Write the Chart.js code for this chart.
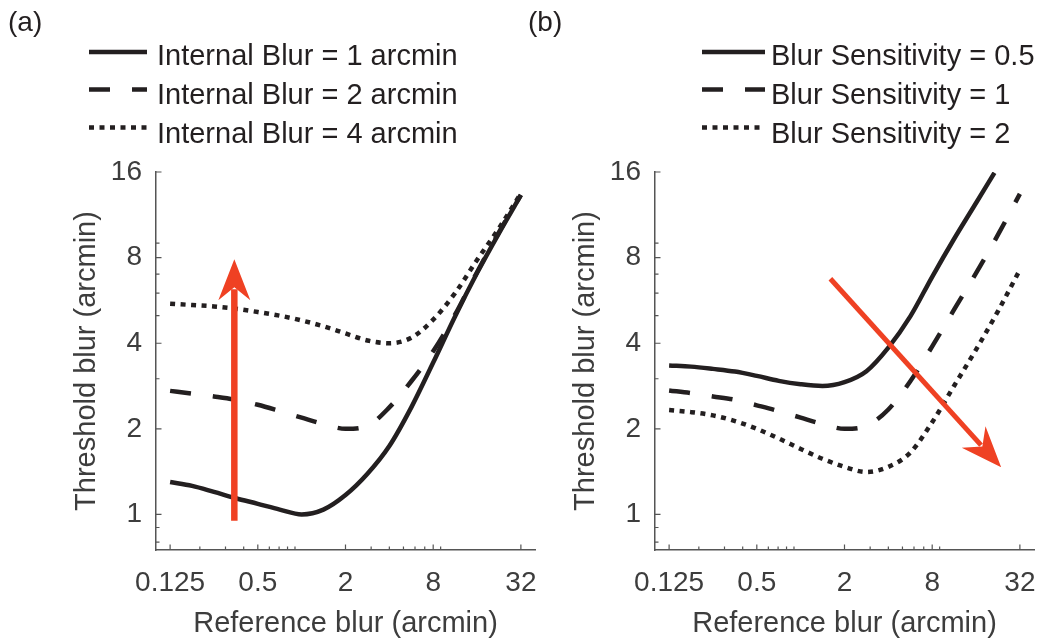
<!DOCTYPE html>
<html>
<head>
<meta charset="utf-8">
<script src="https://cdn.jsdelivr.net/npm/chart.js@4.4.1/dist/chart.umd.min.js"></script>
<style>
  html, body { margin: 0; padding: 0; background: #fff; }
  #wrap { position: relative; width: 1040px; height: 641px; overflow: hidden; }
  .panel { position: absolute; top: 0; width: 540px; height: 641px; }
</style>
</head>
<body>
<div id="wrap">
  <div class="panel" style="left:0"><canvas id="chartA" width="540" height="641"></canvas></div>
  <div class="panel" style="left:499px"><canvas id="chartB" width="540" height="641"></canvas></div>
</div>
<script>
const refBlur = [0.125, 0.177, 0.25, 0.354, 0.5, 0.707, 1, 1.41, 2, 2.83, 4, 5.66, 8, 11.3, 16, 22.6, 32];
const refBlurShort = [0.125, 0.177, 0.25, 0.354, 0.5, 0.707, 1, 1.41, 2, 2.83, 4, 5.66, 8, 11.3, 16, 21.4];

// panel (a): internal blur
const internalLabels = ["Internal Blur = 1 arcmin", "Internal Blur = 2 arcmin", "Internal Blur = 4 arcmin"];
const internal1 = [1.30, 1.26, 1.20, 1.14, 1.09, 1.04, 1.00, 1.04, 1.17, 1.39, 1.74, 2.38, 3.42, 4.97, 7.06, 9.74, 13.26];
const internal2 = [2.72, 2.66, 2.60, 2.53, 2.43, 2.31, 2.19, 2.08, 2.00, 2.05, 2.38, 2.94, 3.75, 5.04, 7.11, 9.82, 13.3];
const internal4 = [5.51, 5.45, 5.39, 5.29, 5.15, 5.00, 4.81, 4.59, 4.33, 4.09, 4.00, 4.18, 4.84, 6.00, 7.85, 10.14, 13.45];

// panel (b): blur sensitivity
const sensLabels = ["Blur Sensitivity = 0.5", "Blur Sensitivity = 1", "Blur Sensitivity = 2"];
const sens05 = [3.34, 3.31, 3.25, 3.18, 3.07, 2.95, 2.87, 2.83, 2.92, 3.19, 3.86, 4.97, 6.85, 9.3, 12.45, 15.9];
const sens1 = [2.73, 2.67, 2.60, 2.53, 2.42, 2.31, 2.19, 2.08, 2.00, 2.05, 2.34, 2.94, 3.90, 5.25, 7.06, 9.61, 13.4];
const sens2 = [2.33, 2.29, 2.23, 2.13, 2.00, 1.85, 1.70, 1.57, 1.47, 1.41, 1.47, 1.65, 2.11, 2.83, 3.80, 5.18, 7.25];

// axis ticks
const xMajor = [0.125, 0.5, 2, 8, 32];
const xMinor = [0.2, 0.3, 0.4, 0.6, 0.7, 0.8, 0.9, 3, 4, 5, 6, 7, 9];
const yMajor = [1, 2, 4, 8, 16];
const yMinor = [0.8, 0.9, 3, 5, 6, 7, 9];

const ink = '#231f20';
const axisColor = '#555555';
const textColor = '#3d3d3d';
const arrowColor = '#ef4123';
const fontFamily = '"Liberation Sans", Arial, Helvetica, sans-serif';
const dashStyles = [[], [21, 22], [5, 5.5]];

function series(xs, ys) {
    return xs.map((x, i) => ({ x: x, y: ys[i] }));
}

function makeDatasets(labels, xsList, ysList) {
    return labels.map((label, i) => ({
        label: label,
        data: series(xsList[i], ysList[i]),
        borderColor: ink,
        borderWidth: 4.5,
        borderDash: dashStyles[i],
        borderCapStyle: 'butt',
        pointRadius: 0,
        fill: false,
        cubicInterpolationMode: 'monotone'
    }));
}

// inward ticks, arrow, legend and panel letter
const decoPlugin = {
    id: 'deco',
    afterDraw(chart, args, opts) {
        const ctx = chart.ctx;
        const xs = chart.scales.x, ys = chart.scales.y;
        const area = chart.chartArea;
        ctx.save();

        ctx.strokeStyle = axisColor;
        ctx.lineWidth = 1.2;
        ctx.beginPath();
        xMajor.forEach(v => { const p = xs.getPixelForValue(v); ctx.moveTo(p, area.bottom); ctx.lineTo(p, area.bottom - 5.5); });
        xMinor.forEach(v => { const p = xs.getPixelForValue(v); ctx.moveTo(p, area.bottom); ctx.lineTo(p, area.bottom - 3.5); });
        yMajor.forEach(v => { const p = ys.getPixelForValue(v); ctx.moveTo(area.left, p); ctx.lineTo(area.left + 5.5, p); });
        yMinor.forEach(v => { const p = ys.getPixelForValue(v); ctx.moveTo(area.left, p); ctx.lineTo(area.left + 3.5, p); });
        ctx.stroke();

        // red arrow
        const a = opts.arrow;
        const x0 = xs.getPixelForValue(a.from[0]), y0 = ys.getPixelForValue(a.from[1]);
        const x1 = xs.getPixelForValue(a.to[0]), y1 = ys.getPixelForValue(a.to[1]);
        const len = Math.hypot(x1 - x0, y1 - y0);
        const ux = (x1 - x0) / len, uy = (y1 - y0) / len;
        const headLen = 41, headHalf = 16, notch = 28;
        ctx.strokeStyle = arrowColor;
        ctx.fillStyle = arrowColor;
        ctx.lineWidth = a.width;
        ctx.lineCap = 'butt';
        ctx.beginPath();
        ctx.moveTo(x0, y0);
        ctx.lineTo(x1 - ux * (notch + 2), y1 - uy * (notch + 2));
        ctx.stroke();
        const bx = x1 - ux * headLen, by = y1 - uy * headLen;
        ctx.beginPath();
        ctx.moveTo(x1, y1);
        ctx.lineTo(bx - uy * headHalf, by + ux * headHalf);
        ctx.lineTo(x1 - ux * notch, y1 - uy * notch);
        ctx.lineTo(bx + uy * headHalf, by - ux * headHalf);
        ctx.closePath();
        ctx.fill();

        // legend
        ctx.font = '29px ' + fontFamily;
        ctx.textBaseline = 'alphabetic';
        ctx.textAlign = 'left';
        chart.data.datasets.forEach((ds, i) => {
            const ly = opts.lineY[i];
            ctx.strokeStyle = ink;
            ctx.lineWidth = ds.borderWidth;
            ctx.setLineDash(ds.borderDash);
            ctx.beginPath();
            ctx.moveTo(opts.lineX[0], ly);
            ctx.lineTo(opts.lineX[1], ly);
            ctx.stroke();
            ctx.setLineDash([]);
            ctx.fillStyle = ink;
            ctx.fillText(ds.label, opts.textX, opts.baseY[i]);
        });

        ctx.font = '28px ' + fontFamily;
        ctx.fillStyle = ink;
        ctx.fillText(opts.letter, opts.letterX, 31);
        ctx.restore();
    }
};

function makeChart(id, datasets, deco) {
    const tickFont = { family: fontFamily, size: 28 };
    const titleFont = { family: fontFamily, size: 29 };
    return new Chart(document.getElementById(id), {
        type: 'line',
        data: { datasets: datasets },
        options: {
            responsive: false,
            animation: false,
            devicePixelRatio: 1,
            layout: { padding: { top: 172, left: 0, right: 5, bottom: 0 } },
            plugins: {
                legend: { display: false },
                tooltip: { enabled: false },
                deco: deco
            },
            scales: {
                x: {
                    type: 'logarithmic',
                    min: 0.1,
                    max: 40,
                    afterBuildTicks: s => { s.ticks = xMajor.map(v => ({ value: v })); },
                    afterFit: s => { s.height = 91; s.paddingLeft = 0; s.paddingRight = 0; },
                    grid: { display: false, drawTicks: false },
                    border: { display: true, color: axisColor, width: 1.5 },
                    ticks: { font: tickFont, color: textColor, padding: 16, maxRotation: 0, autoSkip: false, callback: v => String(v) },
                    title: { display: true, text: 'Reference blur (arcmin)', font: titleFont, color: textColor, padding: { top: 0, bottom: 0 } }
                },
                y: {
                    type: 'logarithmic',
                    min: 0.75,
                    max: 16,
                    afterBuildTicks: s => { s.ticks = yMajor.map(v => ({ value: v })); },
                    afterFit: s => { s.width = 156; s.paddingTop = 0; s.paddingBottom = 0; },
                    grid: { display: false, drawTicks: false },
                    border: { display: true, color: axisColor, width: 1.5 },
                    ticks: { font: tickFont, color: textColor, padding: 14, autoSkip: false, callback: v => String(v) },
                    title: { display: true, text: 'Threshold blur (arcmin)', font: titleFont, color: textColor, padding: { top: 70, bottom: 0 } }
                }
            }
        },
        plugins: [decoPlugin]
    });
}

makeChart('chartA',
    makeDatasets(internalLabels, [refBlur, refBlur, refBlur], [internal1, internal2, internal4]),
    {
        letter: '(a)', letterX: 8,
        lineX: [89, 147], textX: 157,
        lineY: [52, 89.5, 127.5], baseY: [65, 104, 142.5],
        arrow: { from: [0.345, 0.95], to: [0.345, 7.9], width: 6.5 }
    });

makeChart('chartB',
    makeDatasets(sensLabels, [refBlurShort, refBlur, refBlur], [sens05, sens1, sens2]),
    {
        letter: '(b)', letterX: 29,
        lineX: [203, 266], textX: 272,
        lineY: [52, 89.5, 127.5], baseY: [65, 104, 142.5],
        arrow: { from: [1.6, 6.74], to: [23.8, 1.465], width: 5 }
    });
</script>
</body>
</html>
